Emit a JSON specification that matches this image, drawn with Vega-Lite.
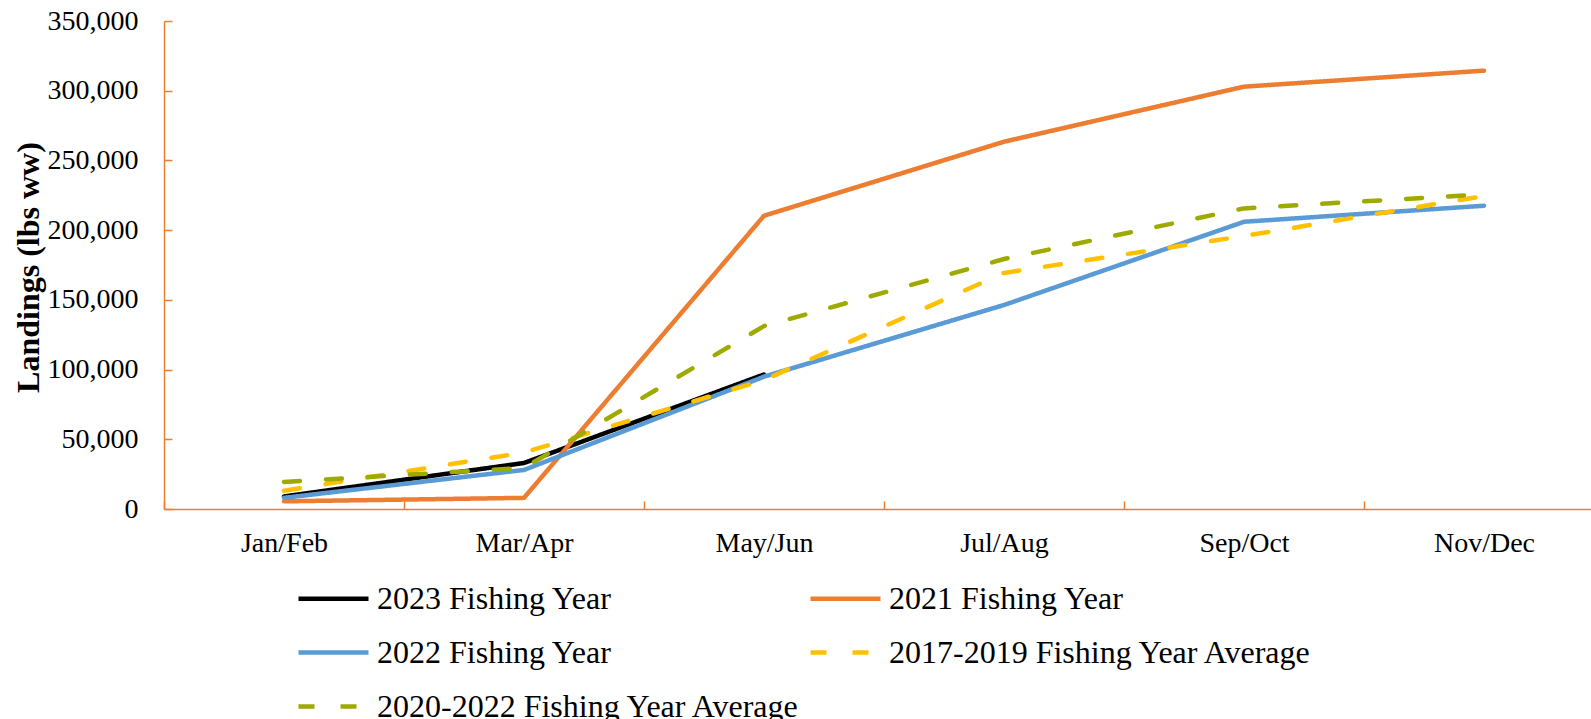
{
  "$schema": "https://vega.github.io/schema/vega-lite/v6.json",
  "autosize": {"type": "none"},
  "padding": {"left": 164, "top": 21, "right": 0, "bottom": 210},
  "width": 1427,
  "height": 488,
  "background": "white",
  "config": {
    "view": {"stroke": null},
    "font": "Liberation Serif"
  },
  "data": {
    "values": [
      {"period": "Jan/Feb", "series": "2023 Fishing Year", "landings": 9000},
      {"period": "Mar/Apr", "series": "2023 Fishing Year", "landings": 33000},
      {"period": "May/Jun", "series": "2023 Fishing Year", "landings": 96500},
      {"period": "Jan/Feb", "series": "2021 Fishing Year", "landings": 5500},
      {"period": "Mar/Apr", "series": "2021 Fishing Year", "landings": 8000},
      {"period": "May/Jun", "series": "2021 Fishing Year", "landings": 210300},
      {"period": "Jul/Aug", "series": "2021 Fishing Year", "landings": 263400},
      {"period": "Sep/Oct", "series": "2021 Fishing Year", "landings": 302900},
      {"period": "Nov/Dec", "series": "2021 Fishing Year", "landings": 314400},
      {"period": "Jan/Feb", "series": "2022 Fishing Year", "landings": 8000},
      {"period": "Mar/Apr", "series": "2022 Fishing Year", "landings": 28000},
      {"period": "May/Jun", "series": "2022 Fishing Year", "landings": 94900},
      {"period": "Jul/Aug", "series": "2022 Fishing Year", "landings": 146300},
      {"period": "Sep/Oct", "series": "2022 Fishing Year", "landings": 206000},
      {"period": "Nov/Dec", "series": "2022 Fishing Year", "landings": 217500},
      {"period": "Jan/Feb", "series": "2017-2019 Fishing Year Average", "landings": 13100},
      {"period": "Mar/Apr", "series": "2017-2019 Fishing Year Average", "landings": 40500},
      {"period": "May/Jun", "series": "2017-2019 Fishing Year Average", "landings": 92500},
      {"period": "Jul/Aug", "series": "2017-2019 Fishing Year Average", "landings": 169300},
      {"period": "Sep/Oct", "series": "2017-2019 Fishing Year Average", "landings": 195800},
      {"period": "Nov/Dec", "series": "2017-2019 Fishing Year Average", "landings": 224500},
      {"period": "Jan/Feb", "series": "2020-2022 Fishing Year Average", "landings": 19400},
      {"period": "Mar/Apr", "series": "2020-2022 Fishing Year Average", "landings": 29500},
      {"period": "May/Jun", "series": "2020-2022 Fishing Year Average", "landings": 131200},
      {"period": "Jul/Aug", "series": "2020-2022 Fishing Year Average", "landings": 179300},
      {"period": "Sep/Oct", "series": "2020-2022 Fishing Year Average", "landings": 215600},
      {"period": "Nov/Dec", "series": "2020-2022 Fishing Year Average", "landings": 225700}
    ]
  },
  "mark": {"type": "line", "strokeWidth": 4.5, "strokeCap": "round", "strokeJoin": "round"},
  "encoding": {
    "x": {
      "field": "period",
      "type": "nominal",
      "bandPosition": 0.5,
      "sort": ["Jan/Feb", "Mar/Apr", "May/Jun", "Jul/Aug", "Sep/Oct", "Nov/Dec"],
      "scale": {"type": "band", "paddingInner": 0, "paddingOuter": 0, "range": [0, 1440]},
      "axis": {
        "title": null,
        "labelAngle": 0,
        "labelFont": "Liberation Serif",
        "labelFontSize": 28,
        "labelColor": "black",
        "labelPadding": 28,
        "tickBand": "extent",
        "tickSize": -8,
        "tickColor": "#ED7D31",
        "tickWidth": 1.5,
        "domainColor": "#ED7D31",
        "domainWidth": 1.5,
        "grid": false
      }
    },
    "y": {
      "field": "landings",
      "type": "quantitative",
      "scale": {"domain": [0, 350000], "nice": false},
      "axis": {
        "title": "Landings (lbs ww)",
        "titleFont": "Liberation Serif",
        "titleFontSize": 32,
        "titleFontWeight": "bold",
        "titleColor": "black",
        "titleX": -136,
        "titleY": 246,
        "titleAlign": "center",
        "titleBaseline": "middle",
        "titleAngle": -90,
        "values": [0, 50000, 100000, 150000, 200000, 250000, 300000, 350000],
        "format": ",d",
        "labelFont": "Liberation Serif",
        "labelFontSize": 28,
        "labelColor": "black",
        "labelPadding": 34,
        "tickSize": -8,
        "tickColor": "#ED7D31",
        "tickWidth": 1.5,
        "domainColor": "#ED7D31",
        "domainWidth": 1.5,
        "grid": false
      }
    },
    "color": {
      "field": "series",
      "type": "nominal",
      "scale": {
        "domain": ["2023 Fishing Year", "2022 Fishing Year", "2020-2022 Fishing Year Average", "2021 Fishing Year", "2017-2019 Fishing Year Average"],
        "range": ["#000000", "#5B9BD5", "#9FAA00", "#ED7D31", "#FFC000"]
      },
      "legend": {
        "title": null,
        "orient": "none",
        "legendX": 132,
        "legendY": 540,
        "columns": 2,
        "columnPadding": 0,
        "rowPadding": -20,
        "padding": 0,
        "symbolType": "stroke",
        "symbolSize": 4900,
        "symbolStrokeWidth": 4.5,
        "labelFont": "Liberation Serif",
        "labelFontSize": 32,
        "labelColor": "black",
        "labelOffset": 6,
        "labelLimit": 700
      }
    },
    "strokeDash": {
      "field": "series",
      "type": "nominal",
      "scale": {
        "domain": ["2023 Fishing Year", "2022 Fishing Year", "2020-2022 Fishing Year Average", "2021 Fishing Year", "2017-2019 Fishing Year Average"],
        "range": [[1, 0], [1, 0], [16, 26], [1, 0], [16, 26]]
      },
      "legend": null
    }
  }
}
